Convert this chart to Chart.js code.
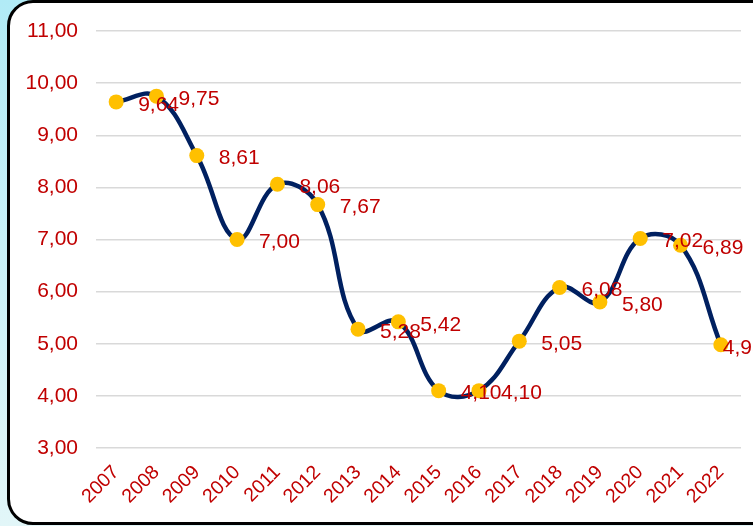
<!DOCTYPE html>
<html>
<head>
<meta charset="utf-8">
<script src="https://cdn.jsdelivr.net/npm/chart.js@4.4.1/dist/chart.umd.min.js"></script>
<style>
  html, body { margin: 0; padding: 0; }
  body {
    width: 753px; height: 526px; overflow: hidden; position: relative;
    background: linear-gradient(to bottom, #b1ebf6, #e2f6f8);
  }
  .panel {
    position: absolute; left: 7px; top: 0px; width: 800px; height: 519px;
    background: #fff; border: 3px solid #000; border-radius: 26px;
  }
  .wrap { position: absolute; left: 0; top: 0; width: 753px; height: 526px; }
</style>
</head>
<body>
<div class="panel"></div>
<div class="wrap"><canvas id="chart"></canvas></div>
<script>
// years and values
const years = ['2007', '2008', '2009', '2010', '2011', '2012', '2013', '2014', '2015', '2016', '2017', '2018', '2019', '2020', '2021', '2022'];
const values = [9.64, 9.75, 8.61, 7.00, 8.06, 7.67, 5.28, 5.42, 4.10, 4.10, 5.05, 6.08, 5.80, 7.02, 6.89, 4.98];

const red = '#c00000';
const comma = v => v.toFixed(2).replace('.', ',');

Chart.defaults.font.family = '"Liberation Sans", Arial, sans-serif';

// value labels to the right of each point (no datalabels plugin offline)
const valueLabels = {
    id: 'valueLabels',
    afterDatasetsDraw(chart) {
        const ctx = chart.ctx;
        const meta = chart.getDatasetMeta(0);
        ctx.save();
        ctx.font = '21px "Liberation Sans", Arial, sans-serif';
        ctx.fillStyle = red;
        ctx.textAlign = 'left';
        ctx.textBaseline = 'middle';
        meta.data.forEach((pt, i) => {
            // last one sits on its point, like the original
            const dx = i === values.length - 1 ? 2 : 22;
            ctx.fillText(comma(values[i]), pt.x + dx, pt.y + 3);
        });
        ctx.restore();
    }
};

new Chart(document.getElementById('chart'), {
    type: 'line',
    data: {
        labels: years,
        datasets: [{
            data: values,
            borderColor: '#002060',
            borderWidth: 4.5,
            tension: 0.4,
            fill: false,
            clip: false,
            pointRadius: 7.5,
            pointBackgroundColor: '#ffc000',
            pointBorderColor: '#ffc000',
            pointBorderWidth: 0
        }]
    },
    options: {
        responsive: true,
        maintainAspectRatio: false,
        animation: false,
        layout: { padding: { top: 31, right: 12, left: 0, bottom: 0 } },
        plugins: {
            legend: { display: false },
            tooltip: { enabled: false }
        },
        scales: {
            x: {
                offset: true,
                grid: { display: false },
                border: { display: false },
                ticks: {
                    color: red,
                    font: { size: 19.5 },
                    maxRotation: 45,
                    minRotation: 45,
                    autoSkip: false,
                    padding: 5
                },
                afterFit(scale) { scale.height = 78; }
            },
            y: {
                min: 3,
                max: 11,
                grid: { color: '#d9d9d9', lineWidth: 1.5, drawTicks: false },
                border: { display: false },
                ticks: {
                    stepSize: 1,
                    color: red,
                    font: { size: 21 },
                    padding: 18,
                    callback: v => comma(v)
                },
                afterFit(scale) { scale.width = 96; }
            }
        }
    },
    plugins: [valueLabels]
});
</script>
</body>
</html>
